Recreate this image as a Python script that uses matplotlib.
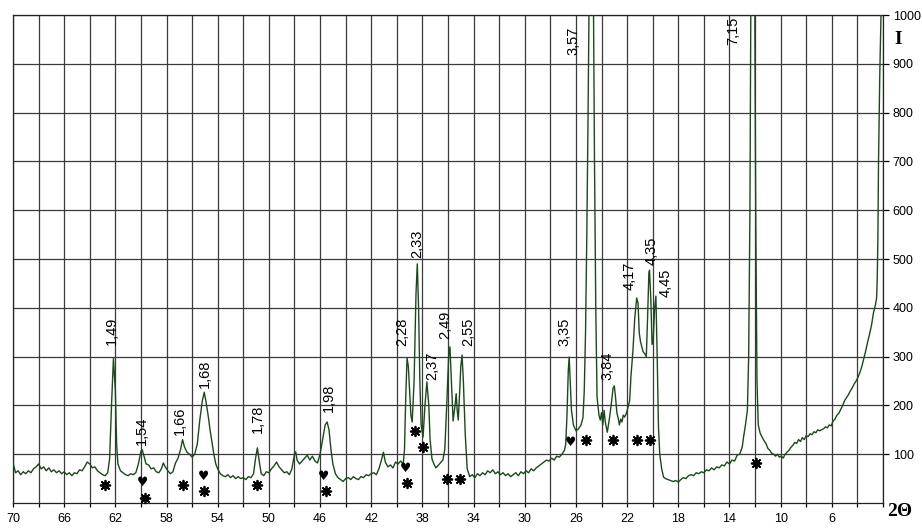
import matplotlib

matplotlib.use("Agg")

import matplotlib.pyplot as plt
import numpy as np
from matplotlib import font_manager

plt.rcParams["font.family"] = ["Liberation Sans", "DejaVu Sans"]

# Diffractogram trace, 2-theta (deg) descending, intensity in counts.
# Split into segments so it stays readable.
seg1_2t = [70.0, 69.8, 69.6, 69.4, 69.2, 69.0, 68.8, 68.6, 68.4, 68.2, 68.0, 67.8,
           67.6, 67.4, 67.2, 67.0, 66.8, 66.6, 66.4, 66.2, 66.0, 65.8, 65.6, 65.4,
           65.2, 65.0, 64.8, 64.6, 64.4, 64.2, 64.0, 63.8, 63.6, 63.4, 63.2, 63.0,
           62.8, 62.6, 62.45, 62.3, 62.15, 62.0, 61.9, 61.8, 61.6, 61.4, 61.2, 61.0,
           60.8, 60.6, 60.4, 60.2, 60.0, 59.9, 59.75, 59.6, 59.4, 59.2, 59.0, 58.8,
           58.6, 58.4, 58.25, 58.1, 57.9, 57.7, 57.5, 57.3, 57.1, 56.9, 56.75, 56.6,
           56.4, 56.2, 56.0, 55.8, 55.6, 55.4, 55.2, 55.05, 54.9, 54.75, 54.6, 54.45,
           54.3, 54.15, 54.0, 53.8, 53.6, 53.4, 53.2, 53.0, 52.8, 52.6, 52.4, 52.2,
           52.0, 51.8, 51.6, 51.4, 51.2, 51.05, 50.9, 50.75, 50.6, 50.4, 50.2, 50.0]
seg1_i = [82, 62, 66, 58, 64, 60, 66, 62, 70, 74, 80, 70,
          74, 66, 72, 64, 68, 62, 66, 60, 64, 58, 62, 56,
          62, 60, 68, 66, 74, 84, 80, 72, 74, 66, 62, 58,
          56, 62, 90, 200, 296, 230, 120, 80, 66, 62, 58, 56,
          60, 58, 62, 80, 106, 109, 95, 80, 78, 70, 72, 64,
          62, 70, 82, 74, 66, 60, 64, 82, 92, 110, 130, 115,
          104, 100, 94, 100, 120, 170, 210, 227, 205, 180, 150, 125,
          100, 80, 70, 60, 56, 54, 58, 52, 56, 50, 54, 50,
          52, 48, 54, 52, 60, 90, 113, 85, 60, 56, 64, 62]

seg2_2t = [49.8, 49.6, 49.4, 49.2, 49.0, 48.8, 48.6, 48.4, 48.2, 48.0, 47.9, 47.8,
           47.6, 47.4, 47.2, 47.0, 46.8, 46.6, 46.4, 46.2, 46.0, 45.8, 45.6, 45.45,
           45.3, 45.15, 45.0, 44.8, 44.6, 44.4, 44.2, 44.0, 43.8, 43.6, 43.4, 43.2,
           43.0, 42.8, 42.6, 42.4, 42.2, 42.0, 41.8, 41.6, 41.4, 41.2, 41.05, 40.9,
           40.7, 40.5, 40.3, 40.1, 39.9, 39.7, 39.5, 39.4, 39.3, 39.2, 39.1, 39.0,
           38.9, 38.8, 38.65, 38.5, 38.4, 38.3, 38.2, 38.1, 37.95, 37.8, 37.65, 37.5,
           37.4, 37.25, 37.1, 36.95, 36.8, 36.6, 36.4, 36.25, 36.1, 35.95, 35.85, 35.75,
           35.6, 35.45, 35.36, 35.28, 35.2, 35.1, 35.0, 34.9, 34.8, 34.65, 34.5, 34.3]
seg2_i = [70, 76, 84, 74, 68, 62, 64, 58, 70, 100, 105, 88,
          80, 86, 92, 98, 88, 96, 86, 82, 100, 130, 160, 166,
          150, 110, 80, 60, 52, 48, 44, 50, 52, 48, 54, 50,
          48, 54, 52, 58, 56, 60, 62, 58, 70, 88, 104, 84,
          74, 78, 72, 84, 80, 86, 80, 110, 220, 297, 280, 230,
          180, 166, 250, 430, 490, 400, 250, 160, 135, 200, 248, 200,
          130, 90, 80, 72, 76, 82, 88, 110, 200, 300, 320, 260,
          168, 200, 224, 190, 170, 220, 280, 303, 250, 140, 70, 54]

seg3_2t = [34.1, 33.9, 33.7, 33.5, 33.3, 33.1, 32.9, 32.7, 32.5, 32.3, 32.1, 31.9,
           31.7, 31.5, 31.3, 31.1, 30.9, 30.7, 30.5, 30.3, 30.1, 29.9, 29.7, 29.5,
           29.3, 29.1, 28.9, 28.7, 28.5, 28.3, 28.1, 27.9, 27.7, 27.5, 27.3, 27.1,
           26.9, 26.8, 26.7, 26.6, 26.53, 26.45, 26.35, 26.2, 26.0, 25.8, 25.6, 25.45,
           25.35, 25.25, 25.15, 25.05, 24.95, 24.8, 24.65, 24.55, 24.45, 24.35, 24.2, 24.1,
           24.0, 23.9, 23.8, 23.7, 23.55, 23.4, 23.25, 23.1, 23.0, 22.9, 22.8, 22.7,
           22.6, 22.5, 22.4, 22.3, 22.2, 22.05, 21.9, 21.8, 21.7, 21.55, 21.4, 21.25,
           21.15, 21.05, 20.95, 20.85, 20.75, 20.6, 20.5, 20.4, 20.3, 20.25, 20.15, 20.05,
           19.95, 19.85, 19.75, 19.65, 19.55, 19.45, 19.3, 19.15]
seg3_i = [58, 52, 60, 56, 62, 58, 66, 62, 68, 60, 64, 58,
          62, 56, 60, 54, 58, 62, 56, 64, 60, 66, 62, 70,
          66, 72, 76, 80, 84, 88, 86, 92, 88, 96, 94, 100,
          108, 120, 180, 270, 299, 250, 190, 160, 148, 152, 160, 175,
          230, 350, 550, 800, 1100, 1500, 1100, 700, 400, 217, 180, 170,
          185, 160, 190, 165, 145, 170, 200, 235, 240, 215, 185, 174,
          160, 172, 166, 180, 176, 184, 200, 210, 260, 310, 380, 420,
          410, 348, 330, 320, 310, 305, 300, 380, 470, 477, 420, 325,
          340, 400, 424, 300, 156, 100, 70, 53]

seg4_2t = [19.0, 18.8, 18.6, 18.4, 18.2, 18.0, 17.8, 17.6, 17.4, 17.2, 17.0, 16.8,
           16.6, 16.4, 16.2, 16.0, 15.8, 15.6, 15.4, 15.2, 15.0, 14.8, 14.6, 14.4,
           14.2, 14.0, 13.8, 13.6, 13.4, 13.2, 13.0, 12.9, 12.75, 12.6, 12.5, 12.4,
           12.3, 12.15, 12.05, 11.95, 11.85, 11.75, 11.6, 11.45, 11.3, 11.15, 11.0, 10.85,
           10.7, 10.55, 10.4, 10.25, 10.1, 9.95, 9.8, 9.65, 9.5, 9.35, 9.2, 9.05,
           8.9, 8.75, 8.6, 8.45, 8.3, 8.15, 8.0, 7.85, 7.7, 7.55, 7.4, 7.25,
           7.1, 6.95, 6.8, 6.65, 6.5, 6.35, 6.2, 6.05, 5.9, 5.75, 5.6, 5.45,
           5.3, 5.15, 5.0, 4.85, 4.7, 4.55, 4.4, 4.25, 4.1, 3.95, 3.8, 3.65,
           3.5, 3.35, 3.2, 3.05, 2.9, 2.75, 2.6, 2.5, 2.45, 2.4, 2.35, 2.25,
           2.15, 2.1]
seg4_i = [50, 48, 46, 44, 46, 43, 48, 52, 50, 56, 58, 56,
          62, 60, 64, 62, 68, 66, 72, 68, 74, 72, 78, 76,
          84, 80, 88, 86, 98, 100, 115, 135, 160, 190, 300, 600,
          1200, 1600, 1200, 600, 250, 160, 143, 135, 128, 122, 112, 108,
          102, 100, 96, 100, 94, 96, 92, 100, 104, 108, 114, 118,
          124, 122, 130, 126, 134, 130, 138, 136, 142, 140, 146, 144,
          150, 148, 150, 152, 156, 154, 160, 158, 168, 172, 180, 184,
          192, 200, 210, 216, 222, 230, 236, 244, 250, 258, 268, 280,
          296, 312, 330, 346, 364, 389, 405, 420, 460, 540, 700, 880,
          1000, 1080]

# d-spacing labels (Angstrom) and where they sit
peak_labels = ["1,49", "1,54", "1,66", "1,68", "1,78", "1,98", "2,28", "2,33", "2,37",
               "2,49", "2,55", "3,35", "3,57", "3,84", "4,17", "4,35", "4,45", "7,15"]
label_2t = [62.26, 59.91, 56.94, 54.98, 50.84, 45.29, 39.59, 38.41, 37.24,
            36.22, 34.42, 26.92, 26.22, 23.56, 21.84, 20.12, 19.02, 13.7]
label_i = [324, 119, 139, 235, 143, 186, 322, 502, 252,
           336, 322, 322, 918, 252, 436, 488, 422, 939]

# phase markers
star_2t = [62.8, 59.7, 56.7, 55.07, 50.9, 45.5, 39.2, 38.6, 37.94, 36.1, 35.1,
           25.2, 23.1, 21.2, 20.2, 11.9]
star_i = [37, 10, 37, 24, 37, 24, 41, 148, 115, 49, 49, 129, 129, 129, 129, 82]
heart_2t = [59.84, 55.14, 45.7, 39.35, 26.45]
heart_i = [41, 55, 55, 71, 123]

two_theta = np.concatenate([seg1_2t, seg2_2t, seg3_2t, seg4_2t])
intensity = np.concatenate([seg1_i, seg2_i, seg3_i, seg4_i])

# narrow face for the peak labels, if the system has it
installed = {f.name for f in font_manager.fontManager.ttflist}
label_family = ["Liberation Sans Narrow"] if "Liberation Sans Narrow" in installed \
    else ["Liberation Sans"]

fig = plt.figure(figsize=(9.22, 5.30), dpi=100)
ax = fig.add_axes([13 / 922, 27 / 530, 870 / 922, 488 / 530])

ax.plot(two_theta, intensity, color="#1a4a1a", lw=1.0, zorder=3)
ax.set_xlim(70, 2)
ax.set_ylim(0, 1000)

ax.set_xticks(np.arange(70, 5, -4))
ax.set_xticks(np.arange(70, 1, -2), minor=True)
ax.set_yticks(np.arange(100, 1001, 100))
ax.grid(True, which="both", axis="x", color="#3a3a3a", lw=0.9)
ax.grid(True, which="major", axis="y", color="#3a3a3a", lw=0.9)
ax.set_axisbelow(True)

ax.yaxis.tick_right()
ax.tick_params(axis="y", labelsize=9, length=4, width=0.9, pad=3)
ax.tick_params(axis="x", which="major", labelsize=9, length=3, width=0.9, pad=4)
ax.tick_params(axis="x", which="minor", length=3, width=0.9)
for sp in ax.spines.values():
    sp.set_color("#222222")
    sp.set_linewidth(0.9)

for txt, x, y in zip(peak_labels, label_2t, label_i):
    ax.text(x, y, txt, rotation=90, ha="center", va="bottom", fontsize=10.5,
            family=label_family, zorder=4)

ax.scatter(star_2t, star_i, marker=(8, 2, 0), s=48, linewidths=1.3,
           color="black", zorder=5, clip_on=False)
for x, y in zip(heart_2t, heart_i):
    ax.text(x, y, "\u2665", ha="center", va="center", fontsize=9,
            family="DejaVu Sans", zorder=5)

fig.text(898 / 922, 1 - 40 / 530, "I", ha="center", va="center", fontsize=14,
         family="Liberation Serif", fontweight="bold")
fig.text(900 / 922, 1 - 512 / 530, "2\u0398", ha="center", va="center",
         fontsize=14, family="Liberation Serif", fontweight="bold")

fig.savefig("out.png", dpi=100)
